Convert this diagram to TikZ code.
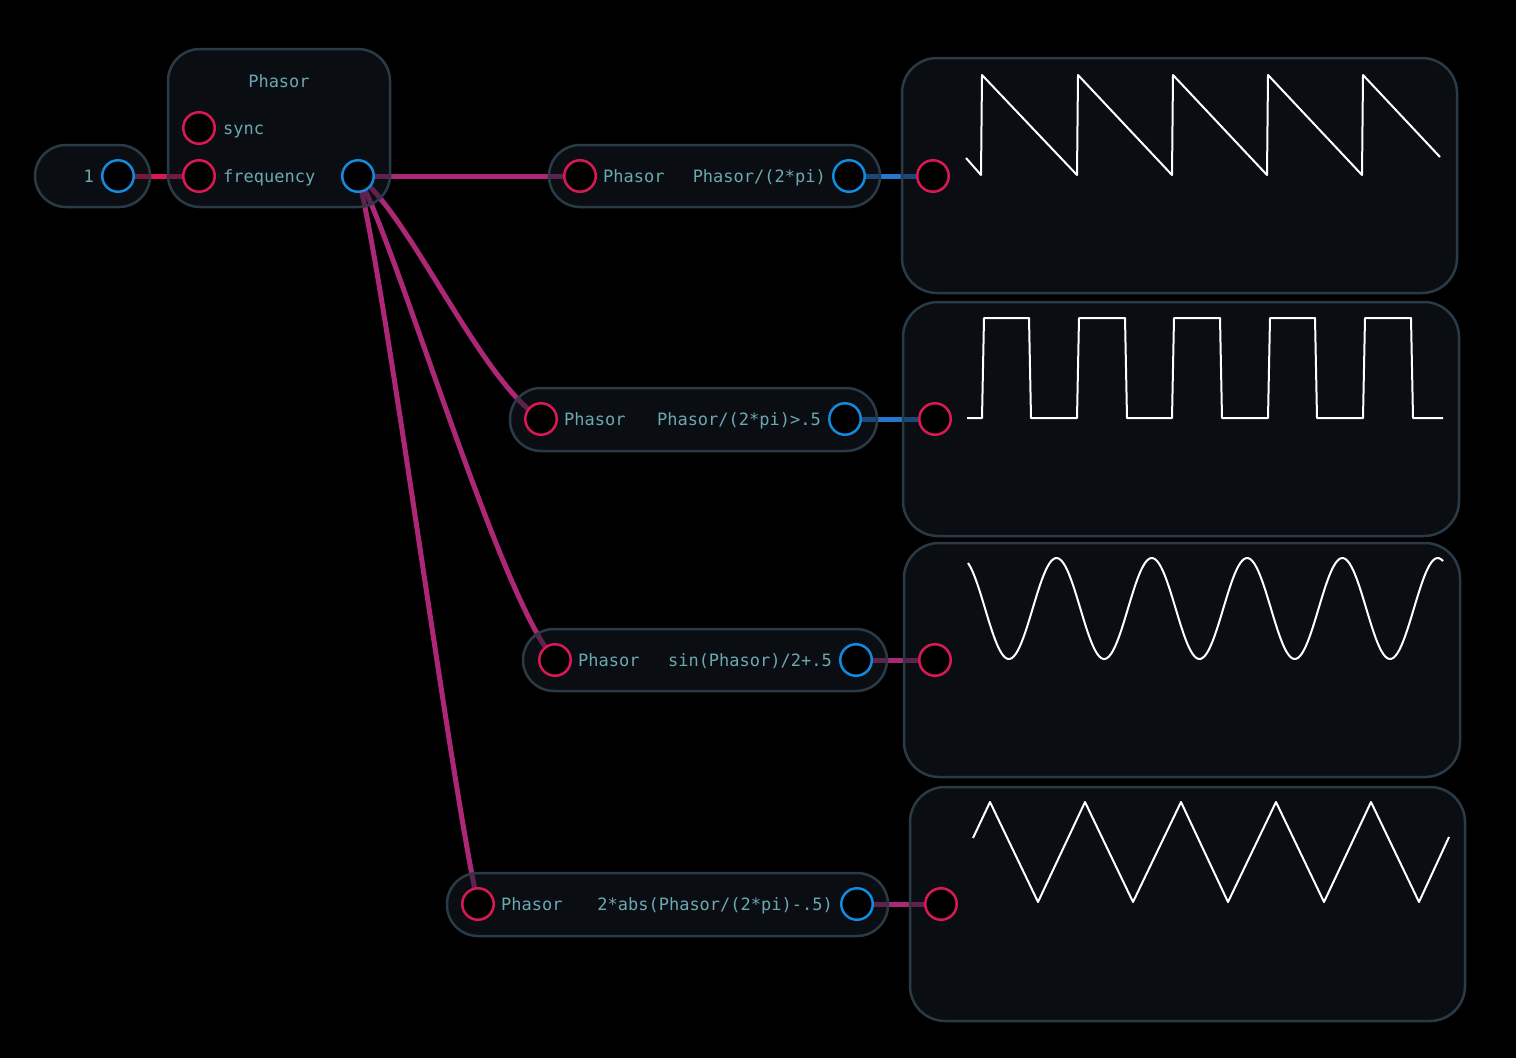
\documentclass[tikz,border=0pt]{standalone}
\usepackage{fontspec}
\newfontfamily\monof{DejaVu Sans Mono}
\pgfdeclarelayer{bgl}
\pgfdeclarelayer{wirel}
\pgfsetlayers{bgl,wirel,main}
\definecolor{boxfill}{RGB}{20,28,38}
\definecolor{boxline}{RGB}{42,58,70}
\definecolor{txt}{RGB}{108,168,178}
\definecolor{inred}{RGB}{218,24,88}
\definecolor{outblue}{RGB}{18,138,222}
\definecolor{wpink}{RGB}{172,40,118}
\definecolor{wred}{RGB}{218,22,88}
\definecolor{wblue}{RGB}{36,118,206}
\tikzset{
  box/.style={draw=boxline, line width=2.5pt, fill=boxfill, fill opacity=0.5, draw opacity=1, rounded corners=31pt, inner sep=0pt},
  scopebox/.style={box, rounded corners=35pt},
  inport/.style={circle, draw=inred, line width=2.5pt, fill=black, minimum size=31.5pt, inner sep=0pt},
  outport/.style={circle, draw=outblue, line width=2.5pt, fill=black, minimum size=31.5pt, inner sep=0pt},
  lbl/.style={text=txt, font=\monof\fontsize{17}{20}\selectfont, inner sep=0pt},
  wire/.style={line width=5pt, draw=wpink},
  wave/.style={draw=white, line width=2pt, line join=round}
}
\begin{document}
\begin{tikzpicture}[x=1pt,y=-1pt]
\useasboundingbox (0,0) rectangle (1516,1058);
\begin{pgfonlayer}{bgl}
\fill[black] (0,0) rectangle (1516,1058);
\end{pgfonlayer}

% boxes
\node[box, minimum width=115pt, minimum height=62pt] (kbox) at (92.5,176) {};
\node[box, rounded corners=32pt, minimum width=222pt, minimum height=158pt] (pbox) at (279,128) {};
\node[box, minimum width=331pt, minimum height=62pt] (abox) at (714.5,176) {};
\node[box, minimum width=367pt, minimum height=63pt] (bbox) at (693.5,419.5) {};
\node[box, minimum width=364pt, minimum height=62pt] (cbox) at (705,660) {};
\node[box, minimum width=441pt, minimum height=63pt] (dbox) at (667.5,904.5) {};
\node[scopebox, minimum width=555pt, minimum height=235pt] (s1box) at (1179.5,175.5) {};
\node[scopebox, minimum width=556pt, minimum height=234pt] (s2box) at (1181,419) {};
\node[scopebox, minimum width=556pt, minimum height=234pt] (s3box) at (1182,660) {};
\node[scopebox, minimum width=555pt, minimum height=234pt] (s4box) at (1187.5,904) {};

% ports
\node[outport] (kout) at (118,176) {};
\node[inport] (psync) at (199,128) {};
\node[inport] (pfreq) at (199,176) {};
\node[outport] (pout) at (358,176) {};
\node[inport] (ain) at (580,176) {};
\node[outport] (aout) at (849,176) {};
\node[inport] (bin) at (541,419) {};
\node[outport] (bout) at (845,419) {};
\node[inport] (cin) at (555,660) {};
\node[outport] (cout) at (856,660) {};
\node[inport] (din) at (478,904) {};
\node[outport] (dout) at (857,904) {};
\node[inport] (s1in) at (933,176) {};
\node[inport] (s2in) at (935,419) {};
\node[inport] (s3in) at (935,660) {};
\node[inport] (s4in) at (941,904) {};

% labels
\node[lbl, anchor=base east] (klbl) at (94,182.5) {1};
\node[lbl, anchor=base] (ptitle) at (279,87.5) {Phasor};
\node[lbl, anchor=base west] (psynclbl) at (223,134.5) {sync};
\node[lbl, anchor=base west] (pfreqlbl) at (223,182.5) {frequency};
\node[lbl, anchor=base west] (ainlbl) at (603,182.5) {Phasor};
\node[lbl, anchor=base east] (aoutlbl) at (826,182.5) {Phasor/(2*pi)};
\node[lbl, anchor=base west] (binlbl) at (564,425.5) {Phasor};
\node[lbl, anchor=base east] (boutlbl) at (821,425.5) {Phasor/(2*pi)>.5};
\node[lbl, anchor=base west] (cinlbl) at (578,666.5) {Phasor};
\node[lbl, anchor=base east] (coutlbl) at (832,666.5) {sin(Phasor)/2+.5};
\node[lbl, anchor=base west] (dinlbl) at (501,910.5) {Phasor};
\node[lbl, anchor=base east] (doutlbl) at (833,910.5) {2*abs(Phasor/(2*pi)-.5)};

% wires
\begin{pgfonlayer}{wirel}
\draw[wire, draw=wred] (kout.center) -- (pfreq.center);
\draw[wire] (pout.center) -- (ain.center);
\draw[wire] (pout.center) .. controls (410,215) and (480,380) .. (bin.center);
\draw[wire] (pout.center) .. controls (395,240) and (500,600) .. (cin.center);
\draw[wire] (pout.center) .. controls (385,280) and (450,780) .. (din.center);
\draw[wire, draw=wblue] (aout.center) -- (s1in.center);
\draw[wire, draw=wblue] (bout.center) -- (s2in.center);
\draw[wire] (cout.center) -- (s3in.center);
\draw[wire] (dout.center) -- (s4in.center);
\end{pgfonlayer}

% waveforms
\draw[wave] (966,158) -- (981,175) -- (982,75) -- (1077,175) -- (1078,75) -- (1172,175) -- (1173,75) -- (1267,175) -- (1268,75) -- (1362,175) -- (1363,75) -- (1440,157);
\draw[wave] (967,418) -- (982,418) -- (984,318) -- (1029,318) -- (1031,418) -- (1077,418) -- (1079,318) -- (1125,318) -- (1127,418) -- (1172,418) -- (1174,318) -- (1220,318) -- (1222,418) -- (1268,418) -- (1270,318) -- (1315,318) -- (1317,418) -- (1363,418) -- (1365,318) -- (1411,318) -- (1413,418) -- (1443,418);
\draw[wave] plot[domain=968:1443, samples=240, smooth] (\x, {608.5-50.5*cos(3.77754*(\x-1056.5))});
\draw[wave] (973,838) -- (990,802) -- (1038,902) -- (1085,802) -- (1133,902) -- (1181,802) -- (1228,902) -- (1276,802) -- (1324,902) -- (1371,802) -- (1419,902) -- (1449,837);
\end{tikzpicture}
\end{document}
